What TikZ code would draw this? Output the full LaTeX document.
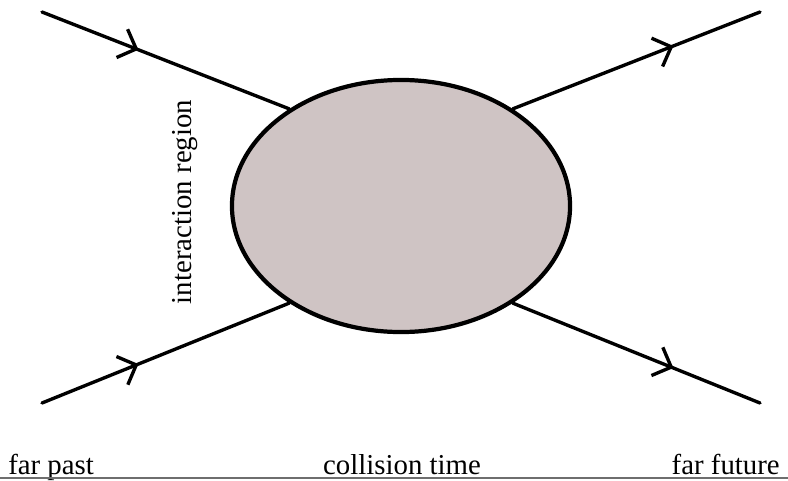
\documentclass[tikz,border=0pt]{standalone}
\usepackage{fontspec}
\setmainfont{Liberation Serif}
\usepackage{xcolor}
\usetikzlibrary{arrows.meta, decorations.markings, shapes.geometric, positioning}
\definecolor{blobfill}{RGB}{207,196,196}
\definecolor{rulegray}{RGB}{110,110,110}

\begin{document}
\begin{tikzpicture}[
        x=0.025cm, y=-0.025cm,
        font=\fontsize{20.5}{24}\selectfont,
        blob/.style={
            ellipse,
            draw=black,
            fill=blobfill,
            line width=3pt,
            minimum width=8.45cm,
            minimum height=6.3cm,
            inner sep=0pt
        },
        leg/.style={
            line width=2.4pt,
            line cap=round
        },
        midarrow/.style={
            postaction={decorate},
            decoration={markings,
                mark=at position #1 with {\arrow[line width=2.4pt]{Straight Barb[length=3.8mm, width=7.6mm]}}}
        },
        lbl/.style={
            inner sep=0pt
        }
    ]

        \useasboundingbox (0,0) rectangle (788,480);

        \node[blob] (region) at (401,206) {};

        \coordinate (inTop) at (42,12);
        \coordinate (inBot) at (42,403);
        \coordinate (outTop) at (760,12);
        \coordinate (outBot) at (760,403);

        \draw[leg, midarrow=0.39] (inTop) -- (region.139);
        \draw[leg, midarrow=0.39] (inBot) -- (region.221);
        \draw[leg, midarrow=0.65] (region.41) -- (outTop);
        \draw[leg, midarrow=0.65] (region.-41) -- (outBot);

        \node[lbl, rotate=90] (regionLbl) at (185,202) {interaction region};

        \node[lbl, anchor=base west] (past) at (8,474) {far past};
        \node[lbl, anchor=base] (collision) at (402,474) {collision time};
        \node[lbl, anchor=base east] (future) at (780,474) {far future};

        \coordinate (axisL) at (0,478);
        \coordinate (axisR) at (788,478);
        \draw[rulegray, line width=1pt] (axisL) -- (axisR);

    \end{tikzpicture}
\end{document}
